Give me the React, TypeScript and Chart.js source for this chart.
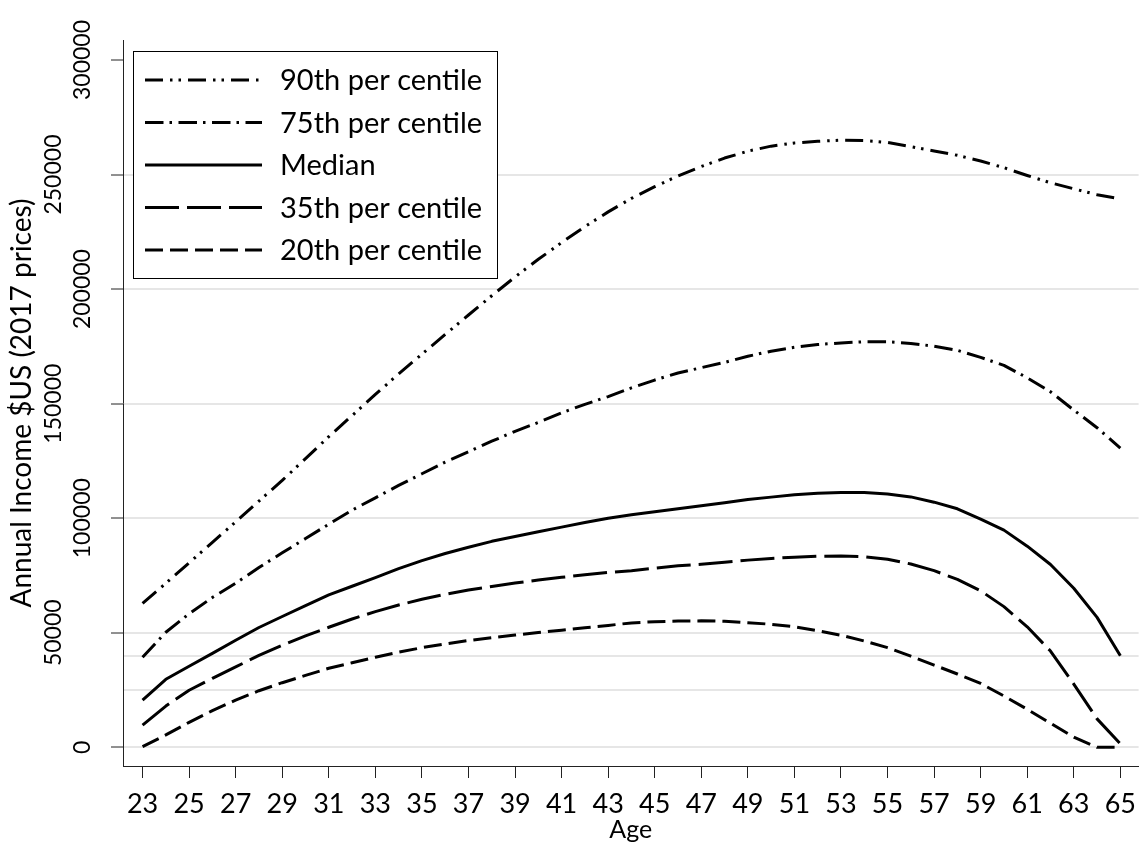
import React, { useEffect, useRef } from 'react';
import { Chart, registerables } from 'chart.js';

Chart.register(...registerables);

const FONT = 'Lato, "DejaVu Sans", sans-serif';

const ages = [23, 24, 25, 26, 27, 28, 29, 30, 31, 32, 33, 34, 35, 36, 37, 38, 39, 40, 41, 42, 43, 44, 45, 46, 47, 48, 49, 50, 51, 52, 53, 54, 55, 56, 57, 58, 59, 60, 61, 62, 63, 64, 65];

const p90 = [62800, 71600, 80500, 89500, 98400, 107500, 116500, 126000, 135600, 144800, 154000, 163000, 171600, 180200, 188700, 197100, 205300, 213000, 220300, 227300, 233700, 239600, 244700, 249400, 253500, 257200, 260200, 262400, 263800, 264500, 265000, 264800, 264000, 262200, 260300, 258400, 255900, 253000, 249600, 246400, 243800, 241200, 239400];

const p75 = [39300, 50200, 58300, 65400, 71600, 78500, 84900, 91100, 97400, 103500, 108900, 114300, 119400, 124500, 129000, 133600, 137900, 141800, 146000, 149700, 153100, 156900, 160300, 163400, 165700, 168000, 170700, 172900, 174600, 175800, 176500, 177000, 177000, 176300, 175100, 173300, 170200, 166700, 161300, 155200, 147200, 139500, 130600];

const median = [20600, 29700, 35400, 41000, 46700, 52300, 57100, 61800, 66500, 70300, 74100, 78000, 81500, 84600, 87300, 89900, 92000, 94100, 96100, 98100, 100000, 101500, 102800, 104100, 105400, 106700, 108200, 109200, 110200, 110900, 111200, 111200, 110600, 109300, 107000, 104100, 99600, 94800, 87800, 79800, 69400, 56700, 40000];

const p35 = [9700, 18000, 24900, 30100, 35100, 40100, 44500, 48600, 52400, 56000, 59200, 62100, 64600, 66800, 68700, 70200, 71700, 73000, 74200, 75300, 76300, 77100, 78200, 79200, 79900, 80800, 81700, 82400, 83000, 83400, 83500, 83200, 82100, 80000, 77100, 73300, 68300, 61400, 52600, 42000, 27600, 12400, 1500];

const p20 = [300, 5400, 10900, 16000, 20600, 24700, 28200, 31400, 34500, 36900, 39300, 41500, 43500, 45100, 46600, 47800, 49000, 50100, 51100, 52200, 53200, 54300, 54800, 55100, 55200, 55000, 54400, 53700, 52600, 50900, 48900, 46400, 43500, 39800, 35900, 32000, 27900, 22400, 16600, 10500, 4400, 0, 0];

const seriesLabels = ['90th per centile', '75th per centile', 'Median', '35th per centile', '20th per centile'];
const seriesValues = [p90, p75, median, p35, p20];
const seriesDashes = [[18, 7, 2.5, 6, 2.5, 7], [18.5, 6, 2.5, 6.5], [], [34, 8], [18, 7]];

const xTickValues = [23, 25, 27, 29, 31, 33, 35, 37, 39, 41, 43, 45, 47, 49, 51, 53, 55, 57, 59, 61, 63, 65];
const yTickValues = [0, 25000, 40000, 50000, 100000, 150000, 200000, 250000, 300000];
const yReferenceLines = [25000, 40000];
const yAxisTitle = 'Annual Income $US (2017 prices)';
const xAxisTitle = 'Age';

const legendBoxPlugin = {
  id: 'legendBox',
  afterDatasetsDraw(chart: any) {
    const { ctx, chartArea } = chart;
    const datasets = chart.data.datasets;
    ctx.save();
    ctx.font = `29px ${FONT}`;
    const textX = chartArea.left + 157;
    let maxW = 0;
    datasets.forEach((d: any) => {
      maxW = Math.max(maxW, ctx.measureText(d.label).width);
    });
    const left = Math.round(chartArea.left + 10) + 0.5;
    const top = Math.round(chartArea.top + 11) + 0.5;
    const right = Math.round(textX + maxW + 15) + 0.5;
    const rowH = 42.5;
    const firstRow = top + 28.5;
    const bottom = Math.round(firstRow + rowH * (datasets.length - 1) + 28) + 0.5;
    ctx.fillStyle = '#ffffff';
    ctx.fillRect(left, top, right - left, bottom - top);
    ctx.lineWidth = 1;
    ctx.strokeStyle = '#000000';
    ctx.setLineDash([]);
    ctx.strokeRect(left, top, right - left, bottom - top);
    datasets.forEach((d: any, i: number) => {
      const y = firstRow + i * rowH;
      ctx.beginPath();
      ctx.setLineDash(d.borderDash || []);
      ctx.lineWidth = d.borderWidth;
      ctx.strokeStyle = d.borderColor;
      ctx.lineCap = 'butt';
      ctx.moveTo(chartArea.left + 22, y);
      ctx.lineTo(chartArea.left + 139, y);
      ctx.stroke();
      ctx.setLineDash([]);
      ctx.fillStyle = '#000000';
      ctx.textBaseline = 'middle';
      ctx.textAlign = 'left';
      ctx.fillText(d.label, textX, y + 1);
    });
    ctx.restore();
  },
};

export default function App() {
  const ref = useRef<HTMLCanvasElement>(null);

  useEffect(() => {
    const canvas = ref.current;
    if (!canvas) return;
    const chart = new Chart(canvas, {
      type: 'line',
      data: {
        datasets: seriesValues.map((vals, i) => ({
          label: seriesLabels[i],
          data: ages.map((a, j) => ({ x: a, y: vals[j] })),
          borderColor: '#000000',
          borderWidth: 3,
          borderDash: seriesDashes[i],
          borderJoinStyle: 'round',
          pointRadius: 0,
          fill: false,
          tension: 0,
        })),
      },
      options: {
        responsive: false,
        animation: false,
        devicePixelRatio: 1,
        events: [],
        layout: { padding: { top: 40, left: 0, right: 0, bottom: 0 } },
        plugins: {
          legend: { display: false },
          tooltip: { enabled: false },
        },
        scales: {
          x: {
            type: 'linear',
            min: 22.16,
            max: 65.785,
            afterBuildTicks: (axis: any) => {
              axis.ticks = xTickValues.map((v) => ({ value: v }));
            },
            afterFit: (axis: any) => {
              axis.height = 79;
            },
            ticks: {
              autoSkip: false,
              maxRotation: 0,
              minRotation: 0,
              padding: 10,
              color: '#000000',
              font: { family: FONT, size: 27 },
              callback: (v: any) => String(v),
            },
            grid: {
              drawOnChartArea: false,
              drawTicks: true,
              tickLength: 12,
              tickColor: '#222222',
              tickWidth: 1,
              color: '#222222',
              lineWidth: 1,
            },
            border: { display: true, color: '#222222', width: 1 },
            title: {
              display: true,
              text: xAxisTitle,
              color: '#000000',
              font: { family: FONT, size: 25 },
              padding: { top: 0, bottom: 0 },
            },
          },
          y: {
            type: 'linear',
            min: -8162,
            max: 308730,
            afterBuildTicks: (axis: any) => {
              axis.ticks = yTickValues.map((v) => ({ value: v }));
            },
            afterFit: (axis: any) => {
              axis.width = 123;
            },
            ticks: {
              autoSkip: false,
              minRotation: 90,
              maxRotation: 90,
              crossAlign: 'center',
              padding: 3,
              color: '#000000',
              font: { family: FONT, size: 23, lineHeight: 1.23 },
              callback: (value: any) => {
                if (yReferenceLines.includes(value)) return '';
                const s = String(value);
                return Math.round(value / 50000) % 2 === 0 ? ['', s] : [s, ''];
              },
            },
            grid: {
              color: (c: any) => (c.tick && c.tick.value === 300000 ? 'rgba(0,0,0,0)' : '#e6e6e6'),
              lineWidth: 2,
              drawTicks: true,
              tickLength: 12,
              tickWidth: 1,
              tickColor: (c: any) => (c.tick && yReferenceLines.includes(c.tick.value) ? 'rgba(0,0,0,0)' : '#222222'),
            },
            border: { display: true, color: '#222222', width: 1 },
            title: {
              display: true,
              text: yAxisTitle,
              color: '#000000',
              font: { family: FONT, size: 28 },
              padding: { top: 5, bottom: 0 },
            },
          },
        },
      },
      plugins: [legendBoxPlugin],
    } as any);
    return () => chart.destroy();
  }, []);

  return (
    <div style={{ position: 'absolute', left: 0, top: 0, width: 1146, height: 845, background: '#ffffff' }}>
      <canvas ref={ref} width={1146} height={845} style={{ display: 'block' }} />
    </div>
  );
}
